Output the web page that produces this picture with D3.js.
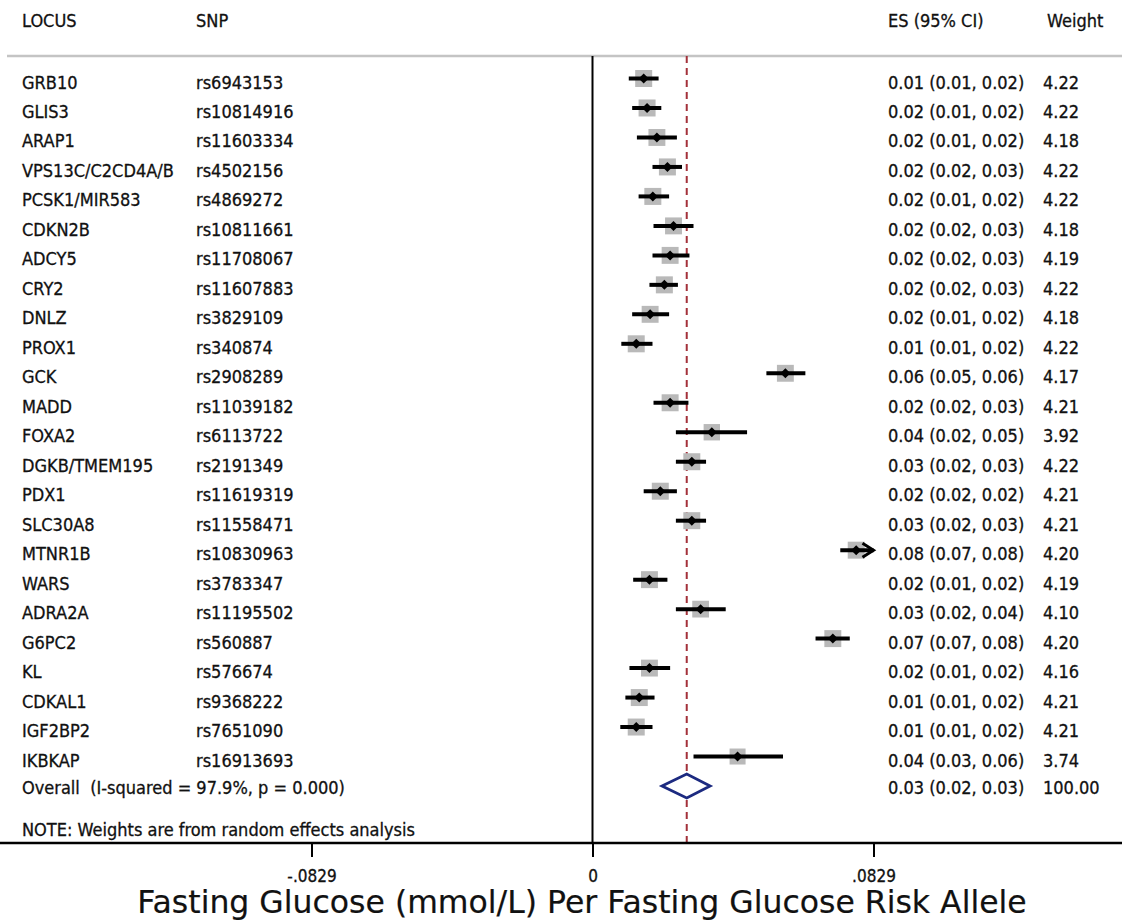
<!DOCTYPE html>
<html>
<head>
<meta charset="utf-8">
<script src="https://cdn.jsdelivr.net/npm/d3@7"></script>
<style>
body{margin:0;background:#fff;}
svg text{font-family:"DejaVu Sans Condensed","DejaVu Sans",sans-serif;font-stretch:condensed;fill:#111;stroke:#111;stroke-width:0.3px;}
</style>
</head>
<body>
<svg id="forest" width="1122" height="922"></svg>
<script>
var loci = ["GRB10","GLIS3","ARAP1","VPS13C/C2CD4A/B","PCSK1/MIR583","CDKN2B","ADCY5","CRY2","DNLZ","PROX1","GCK","MADD","FOXA2","DGKB/TMEM195","PDX1","SLC30A8","MTNR1B","WARS","ADRA2A","G6PC2","KL","CDKAL1","IGF2BP2","IKBKAP"];
var snps = ["rs6943153","rs10814916","rs11603334","rs4502156","rs4869272","rs10811661","rs11708067","rs11607883","rs3829109","rs340874","rs2908289","rs11039182","rs6113722","rs2191349","rs11619319","rs11558471","rs10830963","rs3783347","rs11195502","rs560887","rs576674","rs9368222","rs7651090","rs16913693"];
var es = [0.0151,0.0161,0.0190,0.0221,0.0178,0.0239,0.0229,0.0212,0.0170,0.0129,0.0569,0.0229,0.0352,0.0293,0.0200,0.0293,0.0778,0.0168,0.0319,0.0709,0.0168,0.0138,0.0129,0.0428];
var ciLow = [0.0107,0.0117,0.0131,0.0177,0.0136,0.0180,0.0177,0.0168,0.0117,0.0085,0.0513,0.0180,0.0246,0.0246,0.0151,0.0246,0.0731,0.0120,0.0246,0.0658,0.0109,0.0097,0.0082,0.0298];
var ciHigh = [0.0195,0.0203,0.0249,0.0264,0.0226,0.0298,0.0286,0.0252,0.0226,0.0177,0.0628,0.0283,0.0456,0.0335,0.0249,0.0335,0.0840,0.0221,0.0393,0.0759,0.0229,0.0183,0.0177,0.0562];
var esText = ["0.01 (0.01, 0.02)","0.02 (0.01, 0.02)","0.02 (0.01, 0.02)","0.02 (0.02, 0.03)","0.02 (0.01, 0.02)","0.02 (0.02, 0.03)","0.02 (0.02, 0.03)","0.02 (0.02, 0.03)","0.02 (0.01, 0.02)","0.01 (0.01, 0.02)","0.06 (0.05, 0.06)","0.02 (0.02, 0.03)","0.04 (0.02, 0.05)","0.03 (0.02, 0.03)","0.02 (0.02, 0.02)","0.03 (0.02, 0.03)","0.08 (0.07, 0.08)","0.02 (0.01, 0.02)","0.03 (0.02, 0.04)","0.07 (0.07, 0.08)","0.02 (0.01, 0.02)","0.01 (0.01, 0.02)","0.01 (0.01, 0.02)","0.04 (0.03, 0.06)"];
var weights = [4.22,4.22,4.18,4.22,4.22,4.18,4.19,4.22,4.18,4.22,4.17,4.21,3.92,4.22,4.21,4.21,4.20,4.19,4.10,4.20,4.16,4.21,4.21,3.74];

var overallLabel = "Overall  (I-squared = 97.9%, p = 0.000)";
var overallEs = [0.0278,0.0205,0.0347];
var overallText = "0.03 (0.02, 0.03)";
var overallWeight = 100;

var tickValues = [-0.0829,0,0.0829];
var tickLabels = ["-.0829","0",".0829"];
var headers = ["LOCUS","SNP","ES (95% CI)","Weight"];
var noteText = "NOTE: Weights are from random effects analysis";
var xTitle = "Fasting Glucose (mmol/L) Per Fasting Glucose Risk Allele";

const svg = d3.select("#forest");

var x = d3.scaleLinear().domain([-0.0829,0.0829]).range([311.5,873.5]);
var y = d3.scaleLinear().domain([0,24]).range([78.5,786]);
var boxSize = d3.scaleSqrt().domain([0,4.22]).range([0,17]);
var xMax = x.domain()[1];

var colX = [22,196,888,1043];
var plotTop = 56, plotBottom = 843;

var rows = loci.map(function(d,i){
	return {locus:d,snp:snps[i],es:es[i],lo:ciLow[i],hi:ciHigh[i],text:esText[i],w:weights[i]};
});

// header
svg.selectAll(".header")
	.data(headers)
	.enter()
	.append("text")
	.attr("class","header")
	.attr("x",function(d,i){return i==3?1047:colX[i];})
	.attr("y",27)
	.style("font-size","18px")
	.text(function(d){return d;});

svg.append("line")
	.attr("x1",7).attr("x2",1122)
	.attr("y1",plotTop).attr("y2",plotTop)
	.attr("stroke","#c4c4c4")
	.attr("stroke-width",2.5);

// zero line and overall line
svg.append("line")
	.attr("x1",x(0)).attr("x2",x(0))
	.attr("y1",plotTop).attr("y2",plotBottom)
	.attr("stroke","#000")
	.attr("stroke-width",2);

svg.append("line")
	.attr("x1",x(overallEs[0])).attr("x2",x(overallEs[0]))
	.attr("y1",plotTop).attr("y2",plotBottom)
	.attr("stroke","#a3313a")
	.attr("stroke-width",2)
	.attr("stroke-dasharray","7,5");

// rows
var row = svg.selectAll(".row")
	.data(rows)
	.enter()
	.append("g")
	.attr("class","row")
	.attr("transform",function(d,i){return "translate(0,"+y(i)+")";});

row.append("rect")
	.attr("x",function(d){return x(d.es)-boxSize(d.w)/2;})
	.attr("y",function(d){return -boxSize(d.w)/2;})
	.attr("width",function(d){return boxSize(d.w);})
	.attr("height",function(d){return boxSize(d.w);})
	.attr("fill","#b9b9b9");

row.append("line")
	.attr("x1",function(d){return x(d.lo);})
	.attr("x2",function(d){return x(Math.min(d.hi,xMax));})
	.attr("y1",0).attr("y2",0)
	.attr("stroke","#000")
	.attr("stroke-width",4);

// arrow where CI runs off the axis
row.filter(function(d){return d.hi>xMax;})
	.append("path")
	.attr("d",function(d){var t=x(xMax);return "M"+(t-11)+",-7L"+t+",0L"+(t-11)+",7";})
	.attr("fill","none")
	.attr("stroke","#000")
	.attr("stroke-width",3);

row.append("path")
	.attr("d",function(d){var c=x(d.es);return "M"+(c-5)+",0L"+c+",-5L"+(c+5)+",0L"+c+",5Z";})
	.attr("fill","#000");

row.append("text")
	.attr("x",colX[0]).attr("y",10)
	.style("font-size","18px")
	.text(function(d){return d.locus;});
row.append("text")
	.attr("x",colX[1]).attr("y",10)
	.style("font-size","18px")
	.text(function(d){return d.snp;});
row.append("text")
	.attr("x",colX[2]).attr("y",10)
	.style("font-size","18px")
	.text(function(d){return d.text;});
row.append("text")
	.attr("x",colX[3]).attr("y",10)
	.style("font-size","18px")
	.text(function(d){return d3.format(".2f")(d.w);});

// overall
var oy = y(24);
svg.append("path")
	.attr("d","M"+x(overallEs[1])+","+oy+"L"+x(overallEs[0])+","+(oy-12)+"L"+x(overallEs[2])+","+oy+"L"+x(overallEs[0])+","+(oy+12)+"Z")
	.attr("fill","#fff")
	.attr("stroke","#1c2a80")
	.attr("stroke-width",2.8);

svg.append("text").attr("x",colX[0]).attr("y",oy+8).style("font-size","18px").style("white-space","pre").text(overallLabel);
svg.append("text").attr("x",colX[2]).attr("y",oy+8).style("font-size","18px").text(overallText);
svg.append("text").attr("x",colX[3]).attr("y",oy+8).style("font-size","18px").text(d3.format(".2f")(overallWeight));

svg.append("text").attr("x",colX[0]).attr("y",836).style("font-size","18px").text(noteText);

// axis
svg.append("line")
	.attr("x1",0).attr("x2",1122)
	.attr("y1",plotBottom).attr("y2",plotBottom)
	.attr("stroke","#000")
	.attr("stroke-width",2.5);

var xAxis = d3.axisBottom(x)
	.tickValues(tickValues)
	.tickFormat(function(d,i){return tickLabels[i];})
	.tickSize(14)
	.tickPadding(13)
	.tickSizeOuter(0);

var ax = svg.append("g")
	.attr("transform","translate(0,"+plotBottom+")")
	.call(xAxis);
ax.select(".domain").remove();
ax.selectAll(".tick line").attr("stroke","#000").attr("stroke-width",2);
ax.attr("font-family",null);
ax.selectAll(".tick text").style("font-size","17px");

svg.append("text")
	.attr("x",582).attr("y",913)
	.attr("text-anchor","middle")
	.style("font-family","'DejaVu Sans',sans-serif")
	.style("font-stretch","normal")
	.style("stroke-width","0.2px")
	.style("font-size","31.5px")
	.text(xTitle);
</script>
</body>
</html>
